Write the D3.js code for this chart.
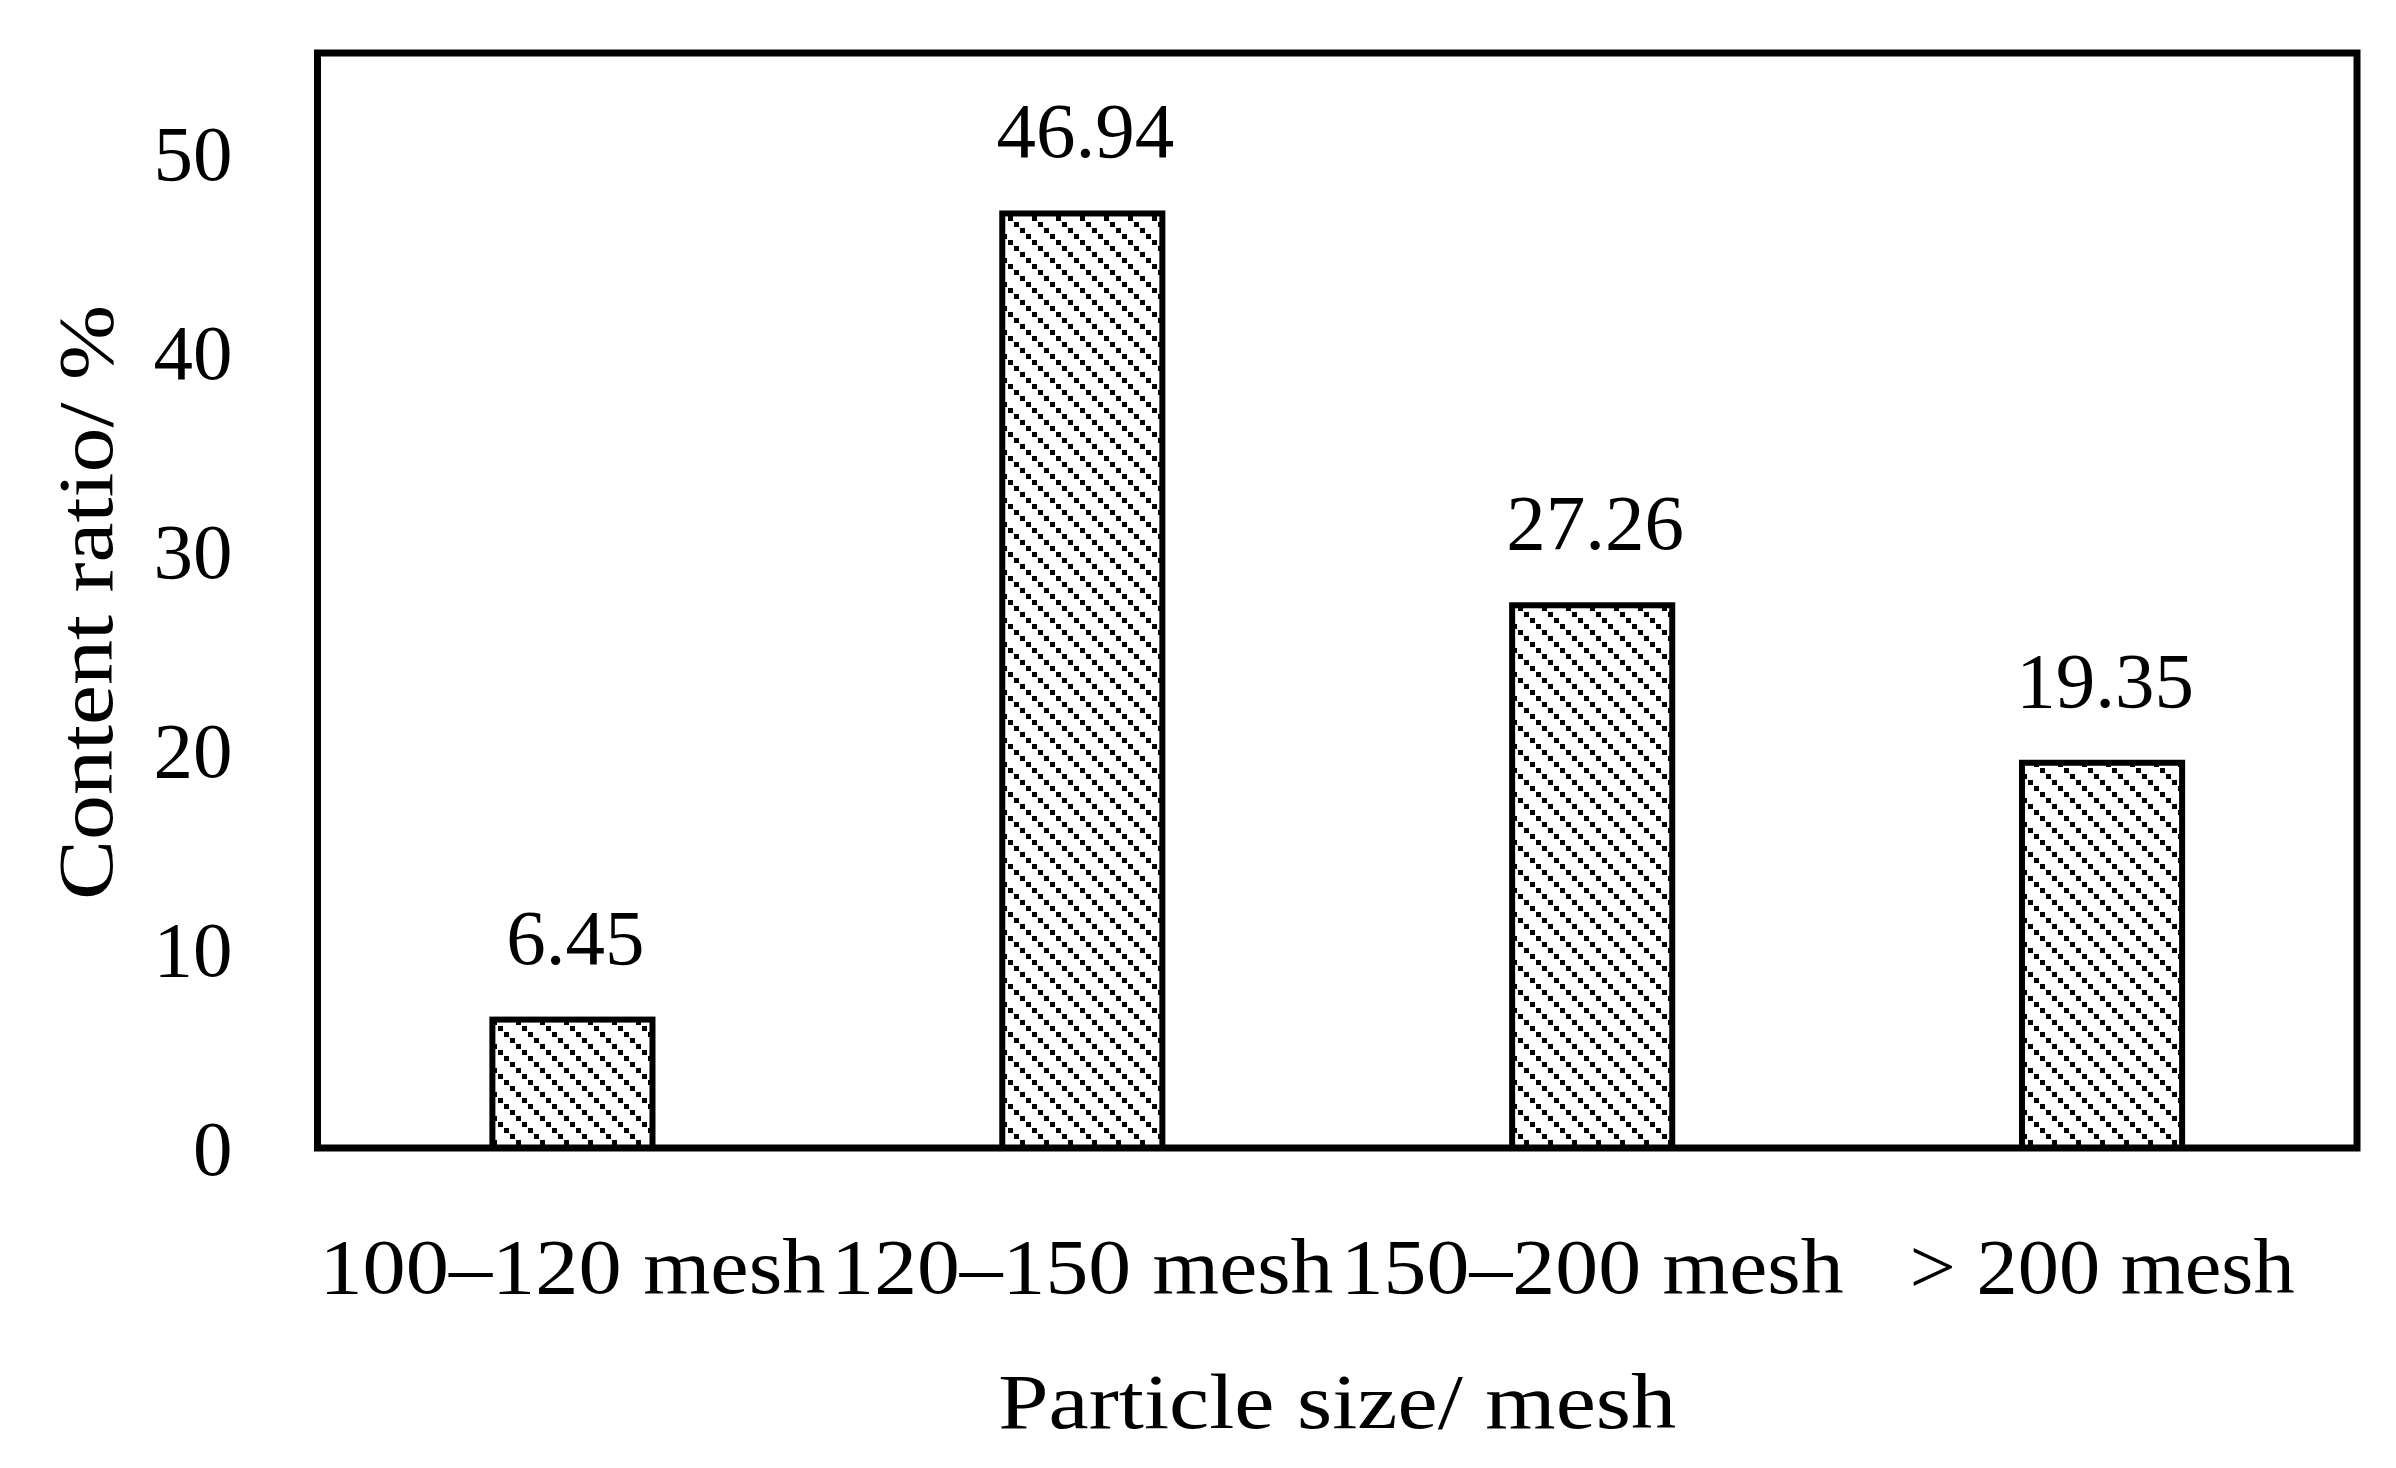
<!DOCTYPE html>
<html>
<head>
<meta charset="utf-8">
<script src="https://cdn.jsdelivr.net/npm/d3@7"></script>
<style>
  html, body { margin: 0; padding: 0; background: #fff; }
  svg { display: block; }
</style>
</head>
<body>
<script>
// ---- data ----
const categories = ["100–120 mesh", "120–150 mesh", "150–200 mesh", "> 200 mesh"];
const values = [6.45, 46.94, 27.26, 19.35];
const valueLabels = ["6.45", "46.94", "27.26", "19.35"];
const yTicks = [0, 10, 20, 30, 40, 50];
const yDomain = [0, 55];
const xTitle = "Particle size/ mesh";
const yTitle = "Content ratio/ %";

// ---- layout ----
const W = 2396, H = 1468;
const plot = { left: 317.5, right: 2357, top: 53, bottom: 1148 };
const FONT = "'Liberation Serif', 'DejaVu Serif', serif";
const FS = 79;

const svg = d3.select("body").append("svg")
  .attr("width", W).attr("height", H)
  .style("background", "#fff");

// dotted downward-diagonal hatch (squares stepping along the diagonal)
const defs = svg.append("defs");
const pat = defs.append("pattern")
  .attr("id", "hatch")
  .attr("patternUnits", "userSpaceOnUse")
  .attr("width", 24).attr("height", 24);
pat.append("rect").attr("width", 24).attr("height", 24).attr("fill", "#fff");
pat.selectAll("rect.dot")
  .data([0, 1, 2, 3])
  .join("rect")
  .attr("class", "dot")
  .attr("x", i => i * 6).attr("y", i => i * 6)
  .attr("width", 5).attr("height", 5)
  .attr("fill", "#000");

const x = d3.scaleBand()
  .domain(categories)
  .range([plot.left, plot.right])
  .paddingInner(0.686)
  .paddingOuter(0.343);

const y = d3.scaleLinear().domain(yDomain).range([plot.bottom, plot.top]);

// bars
svg.append("g").selectAll("rect")
  .data(values)
  .join("rect")
  .attr("x", (d, i) => x(categories[i]))
  .attr("y", d => y(d))
  .attr("width", x.bandwidth())
  .attr("height", d => y(0) - y(d))
  .attr("fill", "url(#hatch)")
  .attr("stroke", "#000")
  .attr("stroke-width", 6);

// value labels
svg.append("g").selectAll("text")
  .data(values)
  .join("text")
  .attr("x", (d, i) => x(categories[i]) + x.bandwidth() / 2 + 3)
  .attr("y", d => y(d) - 56)
  .attr("text-anchor", "middle")
  .attr("font-family", FONT)
  .attr("font-size", FS)
  .attr("fill", "#000")
  .text((d, i) => valueLabels[i]);

// plot frame
svg.append("rect")
  .attr("x", plot.left).attr("y", plot.top)
  .attr("width", plot.right - plot.left)
  .attr("height", plot.bottom - plot.top)
  .attr("fill", "none")
  .attr("stroke", "#000")
  .attr("stroke-width", 7);

// y axis
const yAxis = svg.append("g")
  .attr("transform", `translate(${plot.left},0)`)
  .call(d3.axisLeft(y).tickValues(yTicks).tickSize(0).tickPadding(85).tickFormat(d3.format("d")));
yAxis.select(".domain").remove();
yAxis.selectAll("text")
  .attr("font-family", FONT)
  .attr("font-size", FS)
  .attr("fill", "#000")
  .attr("dy", "0.34em");

// x axis (category labels)
const catWidths = [506, 502, 503, 385];
const xAxis = svg.append("g")
  .attr("transform", `translate(0,${plot.bottom})`)
  .call(d3.axisBottom(x).tickSize(0).tickPadding(0));
xAxis.select(".domain").remove();
xAxis.selectAll("text")
  .attr("font-family", FONT)
  .attr("font-size", FS)
  .attr("fill", "#000")
  .attr("dy", 0)
  .attr("y", 145)
  .attr("textLength", (d, i) => catWidths[i])
  .attr("lengthAdjust", "spacingAndGlyphs");

// axis titles
svg.append("text")
  .attr("x", (plot.left + plot.right) / 2)
  .attr("y", 1428)
  .attr("text-anchor", "middle")
  .attr("font-family", FONT)
  .attr("font-size", FS)
  .attr("fill", "#000")
  .attr("textLength", 678)
  .attr("lengthAdjust", "spacingAndGlyphs")
  .text(xTitle);

svg.append("text")
  .attr("transform", `translate(112,${(plot.top + plot.bottom) / 2 + 2}) rotate(-90)`)
  .attr("text-anchor", "middle")
  .attr("font-family", FONT)
  .attr("font-size", FS)
  .attr("fill", "#000")
  .attr("textLength", 595)
  .attr("lengthAdjust", "spacingAndGlyphs")
  .text(yTitle);
</script>
</body>
</html>
